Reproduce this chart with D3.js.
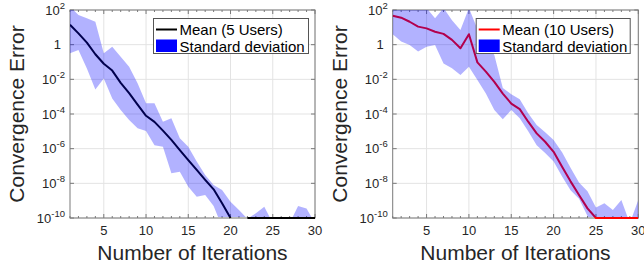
<!DOCTYPE html>
<html><head><meta charset="utf-8">
<script src="https://cdn.jsdelivr.net/npm/d3@7/dist/d3.min.js"></script>
<style>body{margin:0;background:#fff} svg{display:block} text{font-family:"Liberation Sans",Arial,Helvetica,sans-serif}</style>
</head><body><svg id="c" width="644" height="269"></svg>
<script>
// ---------- data ----------
const iterations = d3.range(1, 31);
const xTicks = [5, 10, 15, 20, 25, 30];
const yTickExps = [2, 0, -2, -4, -6, -8, -10];
const xLabel = "Number of Iterations";
const yLabel = "Convergence Error";

// 5 users
const mean5 = [14, 4.5, 1.3, 0.28, 0.079, 0.032, 6.3e-3, 1.6e-3, 3.5e-4, 7.9e-5,
  3.5e-5, 1.1e-5, 3.2e-6, 8.3e-7, 2.2e-7, 5.9e-8, 1.6e-8, 4.5e-9, 7.1e-10, 1e-10,
  null, 1e-10, 1e-10, 1e-10, 1e-10, 1e-10, 1e-10, 1e-10, 1e-10, 1e-10];
const upper5 = [160, 51, 33, 21, 0.32, 0.76, 0.2, 0.054, 0.0059, 4.2e-4,
  4.2e-4, 3.6e-5, 5.6e-5, 4e-6, 1.3e-6, 1.8e-7, 3e-8, 7.9e-9, 4.1e-9, 8.7e-10,
  2.9e-10, 9e-11, 1.9e-10, 4.5e-10, 5e-11, 3e-11, 5e-11, 5e-10, 3.5e-10, 5e-11];
const lower5 = [0.32, 0.49, 0.042, 0.0026, 0.011, 7.9e-4, 1.7e-4, 4.5e-5, 1.5e-5, 1.05e-5,
  1.6e-6, 1.3e-6, 3.8e-8, 4.7e-8, 6.3e-9, 1.7e-9, 2.1e-9, 5e-10, 3e-11, 1e-11,
  1e-11, 1e-11, 1e-11, 1e-11, 1e-11, 1e-11, 1e-11, 1e-11, 1e-11, 1e-11];

// 10 users
const mean10 = [47, 36, 21, 11, 8.7, 5.6, 4.2, 1.9, 0.62, 4,
  0.095, 0.028, 0.0072, 0.0015, 4e-4, 1.9e-4, 3.6e-5, 7.6e-6, 2.5e-6, 6.6e-7,
  9.1e-8, 1.3e-8, 2.1e-9, 3.6e-10, 1e-10, 1e-10, 1e-10, 1e-10, 1e-10, 1e-10];
const upper10 = [160, 200, 130, 160, 130, 33, 130, 26, 7.1, 130,
  7.9, 2, 0.25, 0.0032, 0.0014, 7.1e-4, 1.1e-4, 2.3e-5, 8.9e-6, 3.2e-6,
  6.3e-7, 7.9e-8, 1.1e-8, 3.5e-9, 4.1e-10, 7.1e-10, 2.9e-10, 1.1e-9, 5e-11, 1.1e-9];
const lower10 = [4, 1.5, 0.95, 0.4, 0.76, 0.95, 0.083, 0.043, 0.018, 0.054,
  0.0091, 0.0015, 1.7e-4, 5e-5, 1.7e-4, 5.6e-5, 1e-5, 1.6e-6, 5.6e-7, 1.8e-7,
  2.5e-8, 4e-9, 1.3e-9, 1.3e-10, 3e-11, 1e-11, 1e-11, 1e-11, 1e-11, 1e-11];

const legendMean = ["Mean (5 Users)", "Mean (10 Users)"];
const legendStd = "Standard deviation";

// ---------- drawing ----------
const svg = d3.select("#c");
const AXC = "#7a7a7a", TXT = "#262626", GRID = "#e3e3e3";

function panel(opt) {
  const W = opt.x1 - opt.x0, H = opt.y1 - opt.y0;
  const g = svg.append("g").attr("transform", `translate(${opt.x0},${opt.y0})`);
  const x = d3.scaleLinear().domain([1, 30]).range([0, W]);
  const y = d3.scaleLog().domain([1e-10, 1e2]).range([H, 0]);
  const id = opt.id;
  const defs = svg.append("defs");
  defs.append("clipPath").attr("id", id + "b").append("rect").attr("x", 0).attr("y", 0).attr("width", W).attr("height", H - 1);
  defs.append("clipPath").attr("id", id + "l").append("rect").attr("x", 0).attr("y", -2).attr("width", W).attr("height", H + 3);

  // grid
  g.append("g").selectAll("line").data(xTicks).join("line")
    .attr("x1", d => x(d)).attr("x2", d => x(d)).attr("y1", 0).attr("y2", H)
    .attr("stroke", GRID).attr("stroke-width", 1);
  g.append("g").selectAll("line").data(yTickExps).join("line")
    .attr("x1", 0).attr("x2", W).attr("y1", d => y(Math.pow(10, d))).attr("y2", d => y(Math.pow(10, d)))
    .attr("stroke", GRID).attr("stroke-width", 1);

  // box
  g.append("rect").attr("x", 0).attr("y", 0).attr("width", W).attr("height", H)
    .attr("fill", "none").attr("stroke", AXC).attr("stroke-width", 1);

  // x ticks (major + minor), bottom and top, inward
  const tk = g.append("g").attr("stroke", AXC).attr("stroke-width", 1);
  iterations.forEach(d => {
    const L = xTicks.includes(d) ? 4 : 2;
    tk.append("line").attr("x1", x(d)).attr("x2", x(d)).attr("y1", H).attr("y2", H - L);
    tk.append("line").attr("x1", x(d)).attr("x2", x(d)).attr("y1", 0).attr("y2", L);
  });
  yTickExps.forEach(e => {
    const yy = y(Math.pow(10, e));
    tk.append("line").attr("x1", 0).attr("x2", 4).attr("y1", yy).attr("y2", yy);
    tk.append("line").attr("x1", W).attr("x2", W - 4).attr("y1", yy).attr("y2", yy);
  });

  // x tick labels
  g.append("g").selectAll("text").data(xTicks).join("text")
    .attr("x", d => x(d)).attr("y", H + 17).attr("text-anchor", "middle")
    .attr("font-size", 13).attr("fill", TXT).text(d => d);

  // y tick labels
  yTickExps.forEach(e => {
    const yy = y(Math.pow(10, e));
    const t = g.append("text").attr("y", yy + 4.5).attr("font-size", 13).attr("fill", TXT).attr("text-anchor", "end");
    if (e === 0) {
      t.attr("x", -9).text("1");
    } else {
      t.attr("x", -5);
      t.append("tspan").text("10");
      t.append("tspan").attr("dy", -6).attr("font-size", 9.5).text(String(e));
    }
  });

  // axis titles
  g.append("text").attr("x", W / 2).attr("y", 260 - opt.y0).attr("text-anchor", "middle")
    .attr("font-size", 21).attr("fill", TXT).text(xLabel);
  g.append("text").attr("transform", `translate(${opt.titleX - opt.x0},${H / 2}) rotate(-90)`)
    .attr("text-anchor", "middle").attr("font-size", 21).attr("fill", TXT).text(yLabel);

  // mean line (under band)
  const line = d3.line().defined(d => d.v != null).x(d => x(d.i)).y(d => y(d.v));
  const md = iterations.map((i, k) => ({ i, v: opt.mean[k] }));
  g.append("g").attr("clip-path", `url(#${id}l)`).append("path").datum(md)
    .attr("d", line).attr("fill", "none").attr("stroke", opt.color).attr("stroke-width", 2)
    .attr("stroke-linejoin", "round");

  // band
  const area = d3.area().x(d => x(d.i)).y0(d => y(d.lo)).y1(d => y(d.hi));
  const bd = iterations.map((i, k) => ({ i, lo: opt.lower[k], hi: opt.upper[k] }));
  g.append("g").attr("clip-path", `url(#${id}b)`).append("path").datum(bd)
    .attr("d", area).attr("fill", "#0000ff").attr("fill-opacity", 0.3);

  // legend
  const lg = g.append("g").attr("transform", `translate(${opt.legX},${18 - opt.y0})`);
  lg.append("rect").attr("x", 0.5).attr("y", 0.5).attr("width", opt.legW).attr("height", 35)
    .attr("fill", "#fff").attr("stroke", "#555").attr("stroke-width", 1);
  lg.append("line").attr("x1", 3).attr("x2", 24).attr("y1", 11.5).attr("y2", 11.5)
    .attr("stroke", opt.color).attr("stroke-width", 2);
  lg.append("rect").attr("x", 3).attr("y", 21.5).attr("width", 21).attr("height", 12.5).attr("fill", "#0000ff");
  lg.append("text").attr("x", 26.5).attr("y", 16.5).attr("font-size", 15).attr("fill", "#000").text(opt.legText);
  lg.append("text").attr("x", 26.5).attr("y", 33.5).attr("font-size", 15).attr("fill", "#000").text(legendStd);
}

panel({ id: "p1", x0: 70, x1: 315, y0: 10, y1: 218, titleX: 24, mean: mean5, upper: upper5, lower: lower5,
  color: "#000000", legText: legendMean[0], legX: 83, legW: 155 });
panel({ id: "p2", x0: 392.7, x1: 638.3, y0: 10, y1: 218, titleX: 347, mean: mean10, upper: upper10, lower: lower10,
  color: "#ff0000", legText: legendMean[1], legX: 83, legW: 154 });
</script></body></html>
